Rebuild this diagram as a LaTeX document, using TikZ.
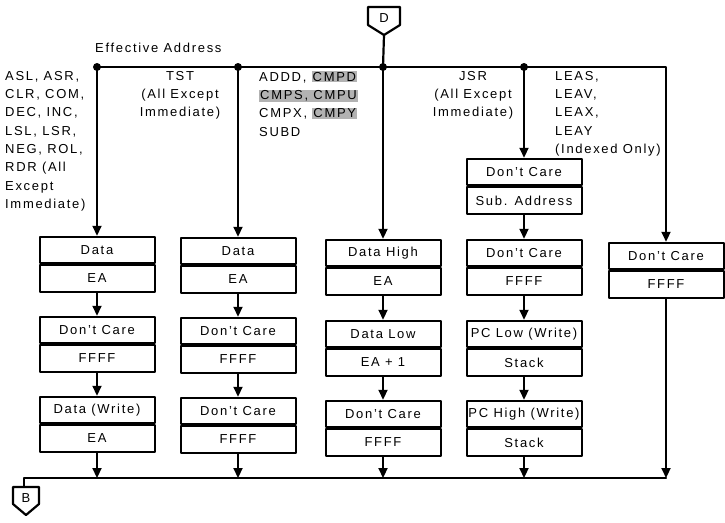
\documentclass[tikz,border=0pt]{standalone}
\usepackage{fontspec}
\setmainfont{Liberation Sans}[LetterSpace=13]
\usetikzlibrary{positioning,arrows.meta}
\setlength\fboxsep{1pt}
\newcommand\shd[1]{\colorbox{black!30}{#1}}
\begin{document}
\begin{tikzpicture}[x=1pt,y=-1pt,line cap=round,line join=round,
    every node/.style={font=\fontsize{13}{18.3}\selectfont},
    half/.style={draw,line width=2pt,minimum width=115pt,minimum height=26.5pt,inner sep=0.5pt},
    flow/.style={line width=2.2pt,-{Triangle[length=10pt,width=9pt]}},
    wire/.style={line width=2.2pt},
    note/.style={inner sep=0pt}]
  \useasboundingbox (0,0) rectangle (725,522);
  \def\cyc#1#2#3#4{\node[half] (#1) at #2 {#3}; \node[half,below=0pt of #1] (#1x) {#4};}
  % bus coordinates
  \coordinate (T1) at (97,67); \coordinate (T2) at (238,67); \coordinate (T3) at (383,67);
  \coordinate (T4) at (524,67); \coordinate (T5) at (666,67);
  \coordinate (L) at (24,478); \coordinate (Bt) at (24,487);
  % off-page connectors
  \node (D) at (384,18) {D};
  \draw[wire] (368,7) -- (400,7) -- (400,25) -- (384,35) -- (368,25) -- cycle;
  \draw[wire] (384,35) -- (T3);
  \node (B) at (26,498) {B};
  \draw[wire] (13,487) -- (39,487) -- (39,504) -- (26,515) -- (13,504) -- cycle;
  % texts
  \node[note,anchor=base west] (ea) at (95,52) {Effective Address};
  \node[note,anchor=north west,align=left] (ops1) at (5,71)
    {ASL, ASR,\\CLR, COM,\\DEC, INC,\\LSL, LSR,\\NEG, ROL,\\RDR (All\\Except\\Immediate)};
  \node[note,anchor=north,align=center] (ops2) at (180,71) {TST\\(All Except\\Immediate)};
  \node[note,anchor=north west,align=left] (ops3) at (259,71)
    {ADDD, \shd{CMPD}\\\shd{CMPS, CMPU}\\CMPX, \shd{CMPY}\\SUBD};
  \node[note,anchor=north,align=center] (ops4) at (473,71) {JSR\\(All Except\\Immediate)};
  \node[note,anchor=north west,align=left] (ops5) at (555,71)
    {LEAS,\\LEAV,\\LEAX,\\LEAY\\(Indexed Only)};
  % cycles
  \cyc{a1}{(97,250)}{Data}{EA} \cyc{a2}{(97,330)}{Don't Care}{FFFF}
  \cyc{a3}{(97,410)}{Data (Write)}{EA}
  \cyc{b1}{(238,251)}{Data}{EA} \cyc{b2}{(238,331)}{Don't Care}{FFFF}
  \cyc{b3}{(238,411)}{Don't Care}{FFFF}
  \cyc{c1}{(383,253)}{Data High}{EA} \cyc{c2}{(383,334)}{Data Low}{EA + 1}
  \cyc{c3}{(383,414)}{Don't Care}{FFFF}
  \cyc{d1}{(524,172)}{Don't Care}{Sub. Address} \cyc{d2}{(524,253)}{Don't Care}{FFFF}
  \cyc{d3}{(524,334)}{PC Low (Write)}{Stack} \cyc{d4}{(524,414)}{PC High (Write)}{Stack}
  \cyc{e1}{(666,256)}{Don't Care}{FFFF}
  % flow
  \draw[flow] (T1) -- (T5) -- (e1.north);
  \foreach \t/\c in {T1/a1,T2/b1,T3/c1,T4/d1} {\draw[flow] (\t) -- (\c.north); \fill (\t) circle (4pt);}
  \foreach \u/\v in {a1x/a2,a2x/a3,b1x/b2,b2x/b3,c1x/c2,c2x/c3,d1x/d2,d2x/d3,d3x/d4}
    \draw[flow] (\u.south) -- (\v.north);
  \foreach \c in {a3x,b3x,c3x,d4x,e1x} \draw[flow] (\c.south) -- (\c.south |- L);
  \draw[wire] (e1x.south |- L) -- (L) -- (Bt);
\end{tikzpicture}
\end{document}
